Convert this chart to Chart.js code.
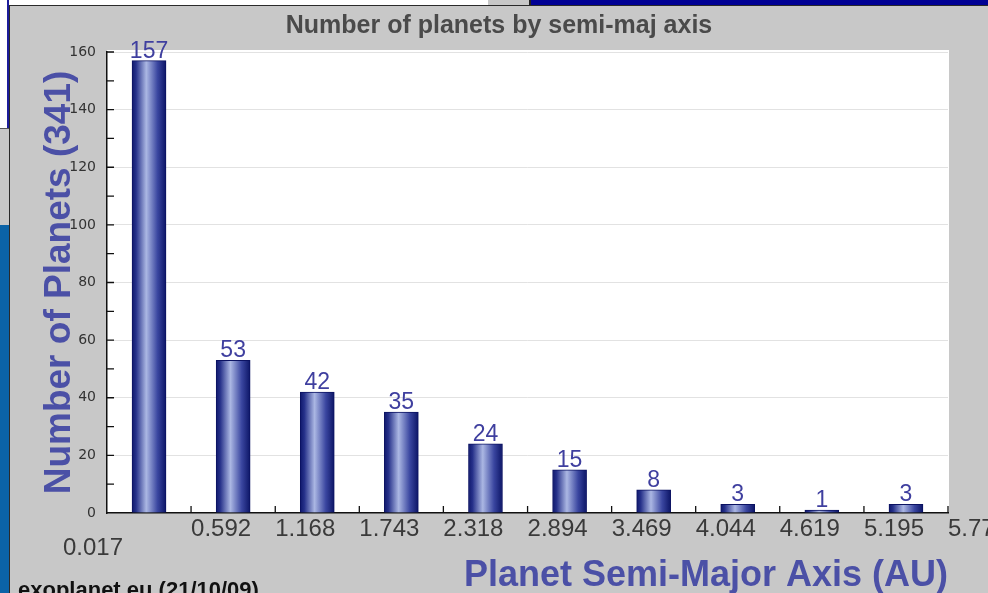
<!DOCTYPE html>
<html>
<head>
<meta charset="utf-8">
<title>Number of planets by semi-maj axis</title>
<script src="https://cdn.jsdelivr.net/npm/chart.js@4.4.1/dist/chart.umd.min.js"></script>
<style>
  html, body { margin: 0; padding: 0; width: 988px; height: 593px; overflow: hidden; background: #c8c8c8; position: relative; }
  .bg { position: absolute; }
  #panel { left: 9px; top: 5px; width: 978px; height: 587px; background: #c8c8c8; border-left: 1px solid #2a2a2a; border-top: 1px solid #2a2a2a; }
  #chart { position: absolute; left: 10px; top: 0; }
  #credit { position: absolute; left: 18px; top: 579px; font: bold 22px/22px "Liberation Sans", Arial, sans-serif; color: #111; white-space: nowrap; }
</style>
</head>
<body>
<!-- desktop behind the chart window -->
<div class="bg" style="left:0;top:0;width:488px;height:5px;background:#fff"></div>
<div class="bg" style="left:529px;top:0;width:457px;height:5px;background:#000094;border-left:2px solid #222"></div>
<div class="bg" style="left:0;top:0;width:7px;height:128px;background:#fff;border-right:2px solid #1c1c9a"></div>
<div class="bg" style="left:0;top:128px;width:9px;height:96px;background:#c8c8c8;border-top:1px solid #555"></div>
<div class="bg" style="left:0;top:225px;width:9px;height:368px;background:#0b63a7"></div>
<div id="panel" class="bg"></div>
<canvas id="chart" width="978" height="593"></canvas>
<div id="credit">exoplanet.eu (21/10/09)</div>

<script>
// Histogram bins (AU) and planet counts per bin
const binEdges = [0.017, 0.592, 1.168, 1.743, 2.318, 2.894, 3.469, 4.044, 4.619, 5.195, 5.770];
const edgeLabels = ['0.017', '0.592', '1.168', '1.743', '2.318', '2.894', '3.469', '4.044', '4.619', '5.195', '5.770'];
const planetCounts = [157, 53, 42, 35, 24, 15, 8, 3, 1, 3];
const totalPlanets = 341;

const chartTitle = 'Number of planets by semi-maj axis';
const xTitle = 'Planet Semi-Major Axis (AU)';
const yTitle = 'Number of Planets (' + totalPlanets + ')';

// each bar sits in the middle of its bin
const barPoints = planetCounts.map((n, i) => ({ x: (binEdges[i] + binEdges[i + 1]) / 2, y: n }));

const FONT = '"Liberation Sans", Arial, sans-serif';
const BAR_W = 34;
Chart.defaults.font.family = FONT;

// white plotting area
const plotBackground = {
  id: 'plotBackground',
  beforeDraw(chart) {
    const { ctx, chartArea: a } = chart;
    ctx.save();
    ctx.fillStyle = '#ffffff';
    ctx.fillRect(a.left, a.top - 2, a.right - a.left + 1, a.bottom - a.top + 2);
    ctx.restore();
  }
};

// cylinder-like horizontal shading on every bar
const barShading = {
  id: 'barShading',
  beforeDatasetsDraw(chart) {
    const ctx = chart.ctx;
    chart.getDatasetMeta(0).data.forEach(bar => {
      const half = bar.width / 2;
      const g = ctx.createLinearGradient(bar.x - half, 0, bar.x + half, 0);
      g.addColorStop(0, '#0f186c');
      g.addColorStop(0.12, '#26318a');
      g.addColorStop(0.42, '#abb7e3');
      g.addColorStop(0.75, '#3a46a0');
      g.addColorStop(1, '#0c1566');
      bar.options.backgroundColor = g;
    });
  }
};

// short tick marks pointing into the plot
const innerTicks = {
  id: 'innerTicks',
  afterDatasetsDraw(chart) {
    const { ctx, scales: { x, y } } = chart;
    ctx.save();
    ctx.strokeStyle = '#111';
    ctx.lineWidth = 1.3;
    ctx.beginPath();
    x.ticks.forEach((t, i) => {
      if (i === 0) return;
      const px = x.getPixelForValue(t.value);
      ctx.moveTo(px, y.bottom);
      ctx.lineTo(px, y.bottom - 7);
    });
    y.ticks.forEach(t => {
      if (t.value === 0) return;
      const py = y.getPixelForValue(t.value);
      ctx.moveTo(x.left, py);
      ctx.lineTo(x.left + 7, py);
    });
    ctx.stroke();
    ctx.restore();
  }
};

// count printed above each bar, plus the lowered first edge label
const barLabels = {
  id: 'barLabels',
  afterDatasetsDraw(chart) {
    const { ctx } = chart;
    const meta = chart.getDatasetMeta(0);
    ctx.save();
    ctx.font = '23px ' + FONT;
    ctx.fillStyle = '#3f3f9f';
    ctx.textAlign = 'center';
    ctx.textBaseline = 'alphabetic';
    meta.data.forEach((bar, i) => {
      ctx.fillText(String(planetCounts[i]), bar.x, bar.y - 3);
    });
    const xs = chart.scales.x;
    ctx.font = '24px ' + FONT;
    ctx.fillStyle = '#3a3a3a';
    ctx.textAlign = 'right';
    ctx.textBaseline = 'middle';
    ctx.fillText(edgeLabels[0], xs.getPixelForValue(binEdges[0]) + 16, xs.top + 35);
    ctx.restore();
  }
};

new Chart(document.getElementById('chart'), {
  type: 'bar',
  data: {
    datasets: [{
      data: barPoints,
      // scriptable so each bar keeps its own options object (shaded per bar)
      backgroundColor: () => '#2a3590',
      borderColor: '#0b1262',
      borderWidth: 1,
      barThickness: BAR_W
    }]
  },
  options: {
    responsive: false,
    animation: false,
    events: [],
    layout: { padding: 0 },
    plugins: {
      legend: { display: false },
      tooltip: { enabled: false },
      title: {
        display: true,
        text: chartTitle,
        color: '#4a4a4a',
        font: { size: 25, weight: 'bold', family: FONT },
        padding: { top: 11, bottom: 11 }
      }
    },
    scales: {
      x: {
        type: 'linear',
        min: binEdges[0],
        max: binEdges[binEdges.length - 1],
        offset: false,
        afterBuildTicks(scale) {
          scale.ticks = binEdges.map(v => ({ value: v }));
        },
        afterFit(scale) {
          scale.height = 80;
          scale.paddingLeft = 0;
          scale.paddingRight = 0;
        },
        ticks: {
          autoSkip: false,
          maxRotation: 0,
          minRotation: 0,
          align: 'start',
          padding: 2,
          color: '#3a3a3a',
          font: { size: 24, family: FONT },
          callback: (v, i) => (i === 0 ? '' : edgeLabels[i])
        },
        grid: { display: false, drawTicks: false },
        border: { display: true, color: '#111', width: 1.5 },
        title: {
          display: true,
          text: xTitle,
          align: 'end',
          color: '#4b50a6',
          font: { size: 36, weight: 'bold', family: FONT, lineHeight: 0.95 },
          padding: { top: 0, bottom: 0 }
        }
      },
      y: {
        type: 'linear',
        position: 'left',
        min: 0,
        max: 160,
        afterFit(scale) {
          scale.width = 97;
          scale.paddingTop = 0;
          scale.paddingBottom = 0;
        },
        ticks: {
          stepSize: 10,
          autoSkip: false,
          padding: 11,
          color: '#333',
          font: { size: 14, family: '"DejaVu Sans", ' + FONT },
          callback: v => (v % 20 === 0 ? String(v) : '')
        },
        grid: {
          drawTicks: false,
          color: c => (c.tick && c.tick.value % 20 === 0 && c.tick.value !== 0 ? '#e2e2e2' : 'rgba(0,0,0,0)'),
          lineWidth: 1
        },
        border: { display: true, color: '#111', width: 1.5 },
        title: {
          display: true,
          text: yTitle,
          color: '#4b50a6',
          font: { size: 37, weight: 'bold', family: FONT },
          padding: { top: 28, bottom: 0 }
        }
      },
      yRight: {
        type: 'linear',
        position: 'right',
        display: true,
        afterFit(scale) { scale.width = 40; },
        ticks: { display: false },
        grid: { display: false, drawTicks: false },
        border: { display: false }
      }
    }
  },
  plugins: [plotBackground, barShading, innerTicks, barLabels]
});
</script>
</body>
</html>
